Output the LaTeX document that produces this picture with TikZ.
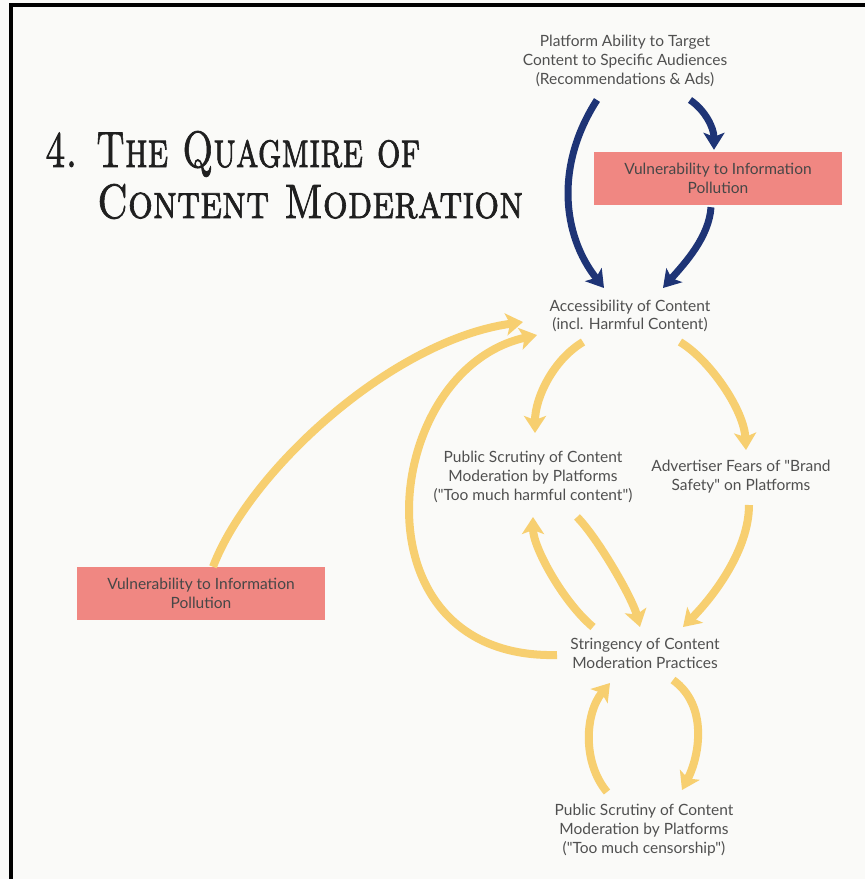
\documentclass[tikz,border=0pt]{standalone}
\usepackage{fontspec}
\usepackage{graphicx}
\newfontfamily\labelfont{Lato}
\newfontfamily\titlefont{lmromancaps10-regular.otf}[FakeBold=1.6]
\usetikzlibrary{arrows.meta}
\definecolor{paper}{RGB}{250,250,248}
\definecolor{loopnavy}{RGB}{30,52,118}
\definecolor{loopgold}{RGB}{247,207,112}
\definecolor{pollpink}{RGB}{240,135,130}
\definecolor{labelgray}{RGB}{80,80,80}

\begin{document}
\begin{tikzpicture}[x=1pt,y=-1pt,
  lbl/.style={font=\labelfont\fontsize{15.5}{18.8}\selectfont, text=labelgray, align=center, inner sep=0},
  pinkbox/.style={lbl, fill=pollpink, text=black!72, minimum width=248pt, minimum height=53pt},
  navyarrow/.style={draw=loopnavy, line width=7pt, -{Stealth[length=17pt,width=21pt,inset=4pt]}},
  goldarrow/.style={draw=loopgold, line width=8pt, -{Stealth[length=17pt,width=22pt,inset=4pt]}}]
  \useasboundingbox (0,0) rectangle (865,879);
  \fill[paper] (0,0) rectangle (865,879);
  \draw[line width=4.5pt] (11,879) -- (11,5) -- (865,5);
  % title
  \node[anchor=base west, inner sep=0, text=black!88] (titleA) at (45,167) {\resizebox{375pt}{36pt}{\titlefont 4. The Quagmire of}};
  \node[anchor=base west, inner sep=0, text=black!88] (titleB) at (97,218) {\resizebox{426pt}{34pt}{\titlefont Content Moderation}};
  % variables
  \node[lbl] (target) at (625,61) {Platform Ability to Target\\Content to Specific Audiences\\(Recommendations \& Ads)};
  \node[pinkbox] (vulnTop) at (718,178.5) {Vulnerability to Information\\Pollution};
  \node[lbl] (access) at (630,316) {Accessibility of Content\\(incl. Harmful Content)};
  \node[lbl] (scrutinyHarm) at (533,477) {Public Scrutiny of Content\\Moderation by Platforms\\("Too much harmful content")};
  \node[lbl] (advertiser) at (741,476.5) {Advertiser Fears of "Brand\\Safety" on Platforms};
  \node[lbl] (stringency) at (645,653) {Stringency of Content\\Moderation Practices};
  \node[lbl] (scrutinyCens) at (644,830) {Public Scrutiny of Content\\Moderation by Platforms\\("Too much censorship")};
  \node[pinkbox] (vulnLeft) at (201,593.5) {Vulnerability to Information\\Pollution};
  % targeting links
  \draw[navyarrow] ([shift={(-28,39)}]target.center) .. controls +(-42,65) and +(-42,-53) .. ([shift={(-26,-28)}]access.center);
  \draw[navyarrow] ([shift={(65,39)}]target.center) .. controls +(15,10) and +(0,-22) .. ([shift={(-4,-2)}]vulnTop.north);
  \draw[navyarrow] ([shift={(-7,2)}]vulnTop.south) .. controls +(-2,30) and +(22,-25) .. ([shift={(33,-28)}]access.center);
  % moderation loops
  \draw[goldarrow] ([shift={(-47,26)}]access.center) .. controls +(-30,18) and +(0,-35) .. ([shift={(2,-44)}]scrutinyHarm.center);
  \draw[goldarrow] ([shift={(50,26)}]access.center) .. controls +(30,18) and +(-2,-40) .. ([shift={(5,-26.5)}]advertiser.center);
  \draw[goldarrow] ([shift={(8,28.5)}]advertiser.center) .. controls +(0,45) and +(30,-30) .. ([shift={(38,-26)}]stringency.center);
  \draw[goldarrow] ([shift={(44,40)}]scrutinyHarm.center) .. controls +(20,20) and +(-8,-30) .. ([shift={(-5,-26)}]stringency.center);
  \draw[goldarrow] ([shift={(-52,-26)}]stringency.center) .. controls +(-30,-25) and +(0,30) .. ([shift={(0,40)}]scrutinyHarm.center);
  \draw[goldarrow] ([shift={(-88,2)}]stringency.center) .. controls +(-207,5) and +(-157,35) .. ([shift={(-93,19)}]access.center);
  \draw[goldarrow] ([shift={(12,0)}]vulnLeft.north) .. controls +(37,-97) and +(-130,18) .. ([shift={(-107,6)}]access.center);
  \draw[goldarrow] ([shift={(28,27)}]stringency.center) .. controls +(35,25) and +(18,-35) .. ([shift={(38,-40)}]scrutinyCens.center);
  \draw[goldarrow] ([shift={(-37,-38)}]scrutinyCens.center) .. controls +(-25,-30) and +(-25,30) .. ([shift={(-35,30)}]stringency.center);
\end{tikzpicture}
\end{document}
